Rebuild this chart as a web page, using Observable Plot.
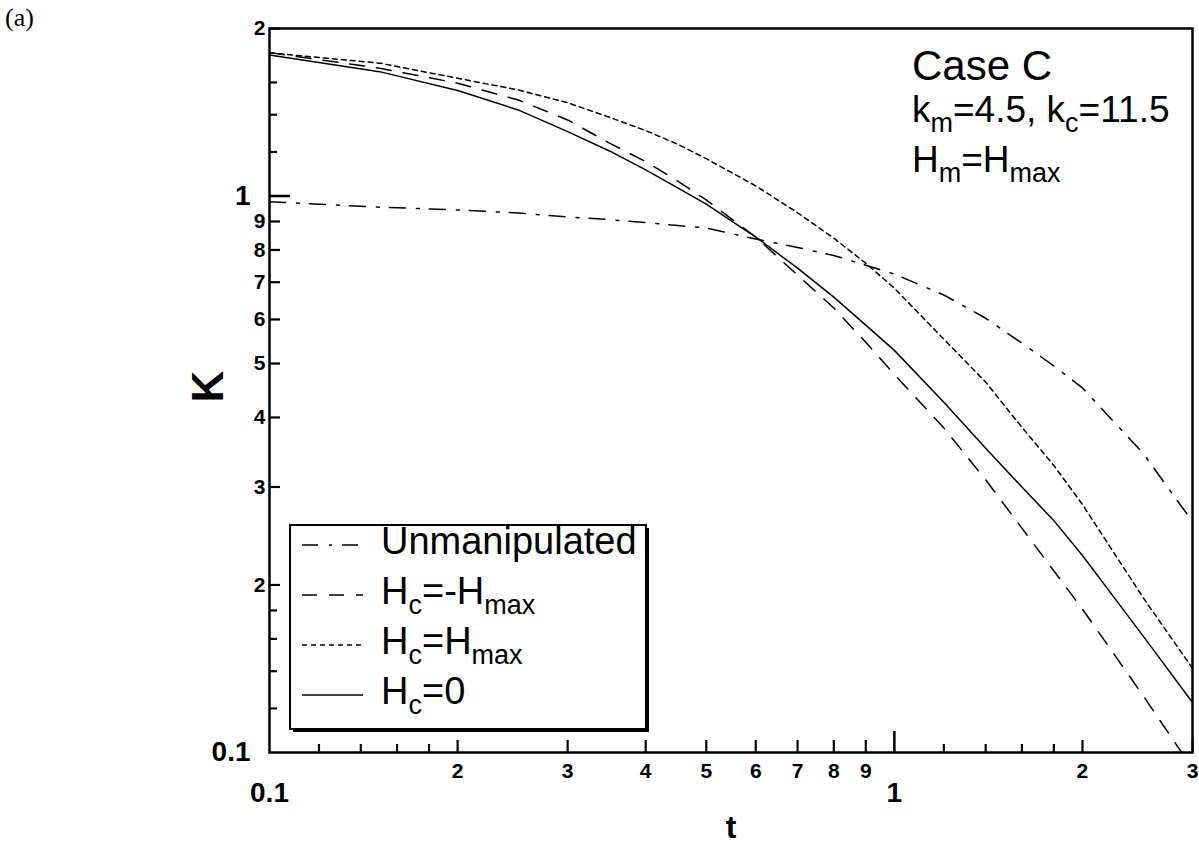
<!DOCTYPE html>
<html><head><meta charset="utf-8">
<script src="https://cdn.jsdelivr.net/npm/d3@7"></script>
<script src="https://cdn.jsdelivr.net/npm/@observablehq/plot@0.6"></script>
<style>
body{margin:0;background:#fff;}
#wrap{position:relative;width:1199px;height:846px;}
#overlay{position:absolute;left:0;top:0;pointer-events:none;}
</style></head><body><div id="wrap"></div>
<script>
// ---- data ----
const tValues = [0.1,0.15,0.2,0.25,0.3,0.35,0.4,0.45,0.5,0.6,0.7,0.8,0.9,1,1.2,1.4,1.6,1.8,2,2.5,3];
const kUnmanipulated = [0.977,0.955,0.944,0.932,0.917,0.907,0.896,0.885,0.876,0.837,0.808,0.782,0.751,0.724,0.664,0.603,0.544,0.495,0.452,0.345,0.260];
const kMinusHmax = [1.81,1.697,1.595,1.488,1.370,1.245,1.153,1.064,0.984,0.844,0.721,0.629,0.546,0.478,0.383,0.309,0.253,0.212,0.181,0.1266,0.0936];
const kPlusHmax = [1.808,1.733,1.628,1.551,1.471,1.385,1.311,1.239,1.167,1.043,0.933,0.840,0.757,0.683,0.553,0.463,0.384,0.328,0.279,0.190,0.1416];
const kZero = [1.793,1.673,1.547,1.428,1.305,1.205,1.114,1.034,0.967,0.844,0.742,0.658,0.586,0.528,0.426,0.352,0.300,0.261,0.226,0.162,0.123];
const seriesNames = ["Unmanipulated","H_{c}=-H_{max}","H_{c}=H_{max}","H_{c}=0"];
const seriesValues = [kUnmanipulated,kMinusHmax,kPlusHmax,kZero];
const seriesDash = ["16,11,3,10","15,12","5,4","none"];

const xLabeledTicks = [0.2,0.3,0.4,0.5,0.6,0.7,0.8,0.9,2,3];
const xMinorTicks = [0.12,0.14,0.16,0.18,1.2,1.4,1.6,1.8];
const xBigTicks = [0.1,1];
const yLabeledTicks = [0.2,0.3,0.4,0.5,0.6,0.7,0.8,0.9,2];
const yMinorTicks = [0.12,0.14,0.16,0.18,1.2,1.4,1.6];
const yBigTicks = [0.1,1];
const smallFmt = d => d < 1 ? String(Math.round(d*10)) : String(d);
const bigFmt = d => String(d);

const annotationLines = ["Case C","k_{m}=4.5, k_{c}=11.5","H_{m}=H_{max}"];
const panelLabel = "(a)";
const xTitle = "t", yTitle = "K";

// ---- build ----
const W = 1199, H = 846;
const mL = 269, mR = 7, mT = 28, mB = 94;
const plotW = W - mL - mR, plotH = H - mT - mB;
const rows = [];
seriesNames.forEach((name, i) => tValues.forEach((t, j) => rows.push({series: name, t, k: seriesValues[i][j]})));

const lineMarks = seriesNames.map((name, i) =>
  Plot.line(rows.filter(r => r.series === name), {
    x: "t", y: "k", stroke: "black", strokeWidth: 1.5,
    strokeDasharray: seriesDash[i] === "none" ? null : seriesDash[i], clip: true
  })
);

const bold = "bold";
const chart = Plot.plot({
  width: W, height: H,
  marginLeft: mL, marginRight: mR, marginTop: mT, marginBottom: mB,
  style: {fontFamily: "'Liberation Sans', Arial, sans-serif", background: "white", color: "black"},
  x: {type: "log", domain: [0.1, 3], axis: null},
  y: {type: "log", domain: [0.1, 2], axis: null},
  marks: [
    ...lineMarks,
    // inward ticks
    Plot.tickX(xMinorTicks, {x: d => d, insetTop: plotH - 8, strokeWidth: 2.2}),
    Plot.tickX(xLabeledTicks, {x: d => d, insetTop: plotH - 12, strokeWidth: 2.2}),
    Plot.tickX([1], {x: d => d, insetTop: plotH - 21, strokeWidth: 2.5}),
    Plot.tickY(yMinorTicks, {y: d => d, insetRight: plotW - 8, strokeWidth: 2.2}),
    Plot.tickY(yLabeledTicks, {y: d => d, insetRight: plotW - 11, strokeWidth: 2.2}),
    Plot.tickY([1], {y: d => d, insetRight: plotW - 21, strokeWidth: 2.5}),
    // tick labels
    Plot.text(xLabeledTicks, {x: d => d, text: smallFmt, frameAnchor: "bottom", lineAnchor: "top", textAnchor: "middle", dy: 11, fontSize: 21, fontWeight: bold}),
    Plot.text(xBigTicks, {x: d => d, text: bigFmt, frameAnchor: "bottom", lineAnchor: "top", textAnchor: "middle", dy: 30, fontSize: 28, fontWeight: bold}),
    Plot.text(yLabeledTicks, {y: d => d, text: smallFmt, frameAnchor: "left", lineAnchor: "middle", textAnchor: "end", dx: -4, fontSize: 21, fontWeight: bold}),
    Plot.text(yBigTicks, {y: d => d, text: bigFmt, frameAnchor: "left", lineAnchor: "middle", textAnchor: "end", dx: -19, fontSize: 28, fontWeight: bold}),
    // axis titles
    Plot.text([xTitle], {text: d => d, frameAnchor: "bottom", lineAnchor: "bottom", textAnchor: "middle", dy: 85, fontSize: 32, fontWeight: bold}),
    Plot.text([yTitle], {text: d => d, frameAnchor: "left", lineAnchor: "middle", textAnchor: "middle", dx: -61, dy: -4, rotate: -90, fontSize: 44, fontWeight: bold}),
    Plot.frame({strokeWidth: 2.5})
  ]
});
const wrap = document.getElementById("wrap");
wrap.appendChild(chart);

// ---- overlay: panel label, annotation, legend ----
const ov = d3.select(wrap).append("svg").attr("id", "overlay")
  .attr("width", W).attr("height", H)
  .style("font-family", "'Liberation Sans', Arial, sans-serif");

function rich(sel, str, shift, subSize) {
  const parts = str.split(/(_\{[^}]*\})/).filter(s => s);
  let down = false;
  parts.forEach(p => {
    if (p.startsWith("_{")) {
      sel.append("tspan").attr("dy", down ? 0 : shift).style("font-size", subSize + "px").text(p.slice(2, -1));
      down = true;
    } else {
      sel.append("tspan").attr("dy", down ? -shift : 0).text(p);
      down = false;
    }
  });
}

ov.append("text").attr("x", 5).attr("y", 26)
  .style("font-family", "'Liberation Serif', 'Times New Roman', serif")
  .style("font-size", "26px").text(panelLabel);

const annoY = [80, 122, 172], annoSize = [42, 37, 37];
annotationLines.forEach((s, i) => {
  const t = ov.append("text").attr("x", 912).attr("y", annoY[i]).style("font-size", annoSize[i] + "px");
  rich(t, s, 10, 27);
});

// legend box with shadow
const lb = {x: 290, y: 525, w: 356, h: 204};
ov.append("rect").attr("x", lb.x + 3).attr("y", lb.y + 3).attr("width", lb.w).attr("height", lb.h).attr("fill", "black");
ov.append("rect").attr("x", lb.x).attr("y", lb.y).attr("width", lb.w).attr("height", lb.h)
  .attr("fill", "white").attr("stroke", "black").attr("stroke-width", 2);
seriesNames.forEach((name, i) => {
  const yb = 554 + 50 * i;
  ov.append("line").attr("x1", 302).attr("x2", 363).attr("y1", yb - 9).attr("y2", yb - 9)
    .attr("stroke", "black").attr("stroke-width", 1.4)
    .attr("stroke-dasharray", seriesDash[i] === "none" ? null : seriesDash[i]);
  const t = ov.append("text").attr("x", 381).attr("y", yb).style("font-size", "38px");
  rich(t, name, 10, 27);
});
</script></body></html>
